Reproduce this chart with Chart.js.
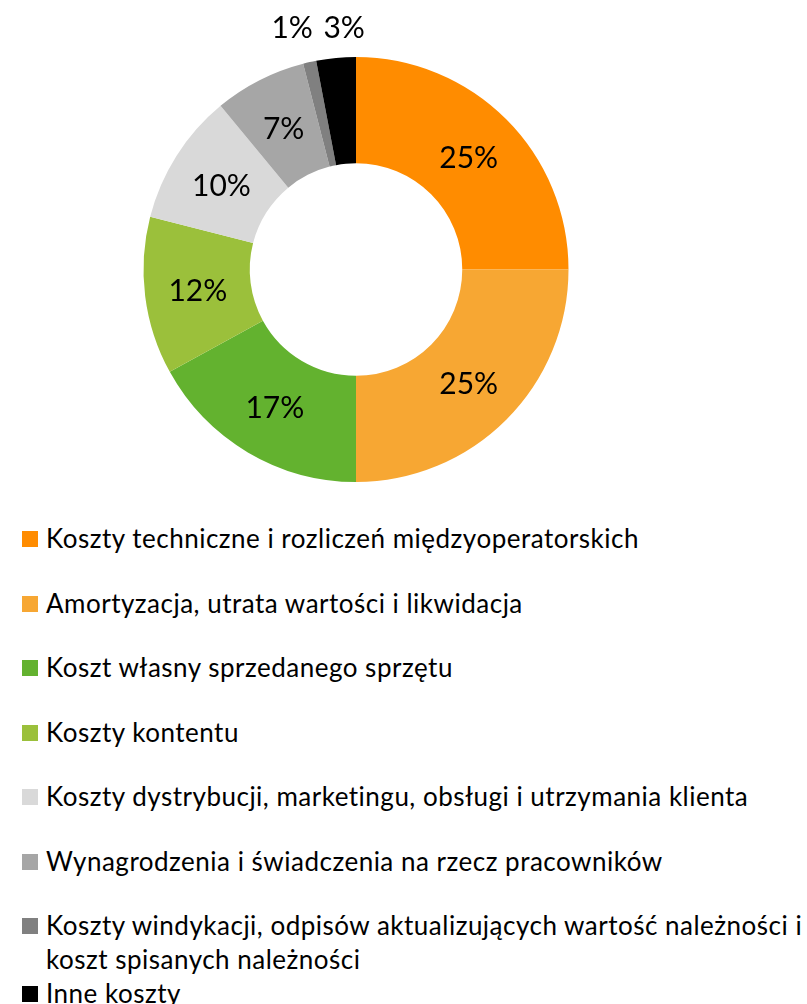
<!DOCTYPE html>
<html>
<head>
<meta charset="utf-8">
<script src="https://cdn.jsdelivr.net/npm/chart.js@4"></script>
<style>
  html, body { margin: 0; padding: 0; background: #fff; }
  body { width: 807px; height: 1004px; position: relative; overflow: hidden; font-family: Lato, "Open Sans", sans-serif; }
  #wrap { position: absolute; left: 0; top: 0; width: 807px; height: 500px; }
  #legend { position: absolute; left: 22px; top: 521px; width: 785px; }
  .item { display: flex; align-items: flex-start; font-size: 26px; letter-spacing: 0.5px; line-height: 34px; color: #000; white-space: pre-line; }
  .sw { width: 16px; height: 16px; flex: 0 0 16px; margin-top: 10px; margin-right: 8px; }
</style>
</head>
<body>
<div id="wrap"><canvas id="c" width="807" height="500"></canvas></div>
<div id="legend"></div>
<script>
const categories = [
  "Koszty techniczne i rozliczeń międzyoperatorskich",
  "Amortyzacja, utrata wartości i likwidacja",
  "Koszt własny sprzedanego sprzętu",
  "Koszty kontentu",
  "Koszty dystrybucji, marketingu, obsługi i utrzymania klienta",
  "Wynagrodzenia i świadczenia na rzecz pracowników",
  "Koszty windykacji, odpisów aktualizujących wartość należności i\nkoszt spisanych należności",
  "Inne koszty"
];
const shares = [25, 25, 17, 12, 10, 7, 1, 3];
const colors = ["#FF8C00", "#F7A733", "#63B22F", "#9BC03B", "#D9D9D9", "#A6A6A6", "#808080", "#000000"];

const labelPlugin = {
  id: 'sliceLabels',
  afterDatasetsDraw(chart) {
    const ctx = chart.ctx;
    const meta = chart.getDatasetMeta(0);
    const data = chart.data.datasets[0].data;
    ctx.save();
    ctx.font = '30px Lato, "Open Sans", sans-serif';
    ctx.fillStyle = '#000';
    ctx.textAlign = 'center';
    ctx.textBaseline = 'middle';
    const outside = [];
    meta.data.forEach((arc, i) => {
      const p = arc.getProps(['x','y','startAngle','endAngle','innerRadius','outerRadius'], true);
      const mid = (p.startAngle + p.endAngle) / 2;
      const txt = data[i] + '%';
      if (data[i] < 5) {
        const r = p.outerRadius + 30;
        outside.push({txt, x: p.x + r * Math.cos(mid), y: p.y + r * Math.sin(mid)});
      } else {
        const r = (p.innerRadius + p.outerRadius) / 2;
        ctx.fillText(txt, p.x + r * Math.cos(mid), p.y + r * Math.sin(mid) + 2);
      }
    });
    outside.sort((a, b) => a.x - b.x);
    const minSep = 52;
    for (let k = 1; k < outside.length; k++) {
      const a = outside[k - 1], b = outside[k];
      if (b.x - a.x < minSep) {
        const m = (a.x + b.x) / 2;
        a.x = m - minSep / 2; b.x = m + minSep / 2;
      }
    }
    const topY = Math.min(...outside.map(o => o.y));
    outside.forEach(o => ctx.fillText(o.txt, o.x, topY));
    ctx.restore();
  }
};

new Chart(document.getElementById('c'), {
  type: 'doughnut',
  data: {
    labels: categories,
    datasets: [{ data: shares, backgroundColor: colors, borderWidth: 0 }]
  },
  options: {
    responsive: false,
    animation: false,
    cutout: '50%',
    layout: { padding: { left: 143, right: 238, top: 57, bottom: 18 } },
    plugins: { legend: { display: false }, tooltip: { enabled: false } }
  },
  plugins: [labelPlugin]
});

const legend = document.getElementById('legend');
categories.forEach((name, i) => {
  const item = document.createElement('div');
  item.className = 'item';
  if (i > 0 && i < categories.length - 1) item.style.marginTop = '30.5px';
  const sw = document.createElement('span');
  sw.className = 'sw';
  sw.style.background = colors[i];
  const t = document.createElement('span');
  t.textContent = name;
  item.appendChild(sw);
  item.appendChild(t);
  legend.appendChild(item);
});
</script>
</body>
</html>
